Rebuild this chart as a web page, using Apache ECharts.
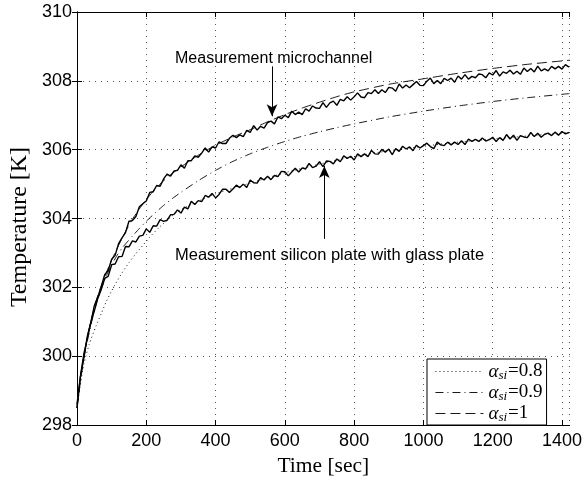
<!DOCTYPE html>
<html>
<head>
<meta charset="utf-8">
<script src="https://cdn.jsdelivr.net/npm/echarts@6/dist/echarts.min.js"></script>
<style>
  html, body { margin: 0; padding: 0; background: #fff; }
  #chart { width: 585px; height: 482px; }
</style>
</head>
<body>
<div id="chart"></div>
<script>
// Logged temperatures, one sample every SAMPLE_STEP seconds starting at t = 0
const SAMPLE_STEP = 10;

const microchannelTemp = [
  298.50, 299.40, 299.97, 300.59, 300.98, 301.47, 301.72, 302.03, 302.37, 302.49,
  302.82, 302.93, 303.27, 303.44, 303.59, 303.92, 303.94, 304.06, 304.34, 304.43,
  304.51, 304.76, 304.78, 304.96, 304.94, 305.15, 305.29, 305.23, 305.38, 305.40,
  305.56, 305.46, 305.68, 305.68, 305.82, 305.78, 305.90, 306.05, 305.93, 306.08,
  306.05, 306.23, 306.18, 306.18, 306.33, 306.42, 306.35, 306.43, 306.38, 306.56,
  306.50, 306.70, 306.57, 306.68, 306.63, 306.79, 306.83, 306.75, 306.95, 306.90,
  307.00, 306.93, 307.12, 307.02, 307.09, 307.02, 307.19, 307.12, 307.27, 307.21,
  307.20, 307.37, 307.23, 307.36, 307.41, 307.29, 307.46, 307.42, 307.54, 307.44,
  307.54, 307.65, 307.53, 307.51, 307.66, 307.63, 307.74, 307.63, 307.74, 307.66,
  307.81, 307.79, 307.70, 307.91, 307.79, 307.88, 307.80, 307.89, 307.98, 307.87,
  307.86, 307.99, 308.08, 307.92, 308.01, 307.92, 308.07, 308.01, 308.08, 307.96,
  308.14, 308.05, 308.18, 308.05, 308.13, 308.09, 308.20, 308.18, 308.09, 308.23,
  308.17, 308.30, 308.14, 308.26, 308.22, 308.31, 308.20, 308.28, 308.19, 308.37,
  308.27, 308.36, 308.26, 308.43, 308.29, 308.35, 308.29, 308.42, 308.35, 308.42,
  308.34, 308.47, 308.40
];

const siliconGlassTemp = [
  298.60, 299.43, 300.08, 300.52, 300.99, 301.31, 301.68, 301.94, 302.26, 302.32,
  302.66, 302.68, 302.89, 302.90, 303.19, 303.18, 303.35, 303.32, 303.49, 303.51,
  303.70, 303.60, 303.79, 303.78, 303.97, 303.92, 303.95, 304.11, 304.12, 304.25,
  304.16, 304.33, 304.28, 304.50, 304.41, 304.52, 304.49, 304.67, 304.62, 304.73,
  304.60, 304.70, 304.85, 304.85, 304.76, 304.86, 304.97, 304.90, 305.00, 304.90,
  305.12, 305.04, 305.03, 305.19, 305.12, 305.23, 305.13, 305.25, 305.22, 305.37,
  305.36, 305.24, 305.35, 305.46, 305.35, 305.47, 305.44, 305.60, 305.48, 305.52,
  305.65, 305.51, 305.67, 305.66, 305.59, 305.73, 305.65, 305.82, 305.75, 305.81,
  305.70, 305.88, 305.80, 305.88, 305.80, 305.98, 305.88, 305.87, 306.01, 305.93,
  306.02, 305.86, 306.03, 305.95, 306.10, 306.02, 306.08, 305.97, 306.13, 306.05,
  306.12, 306.19, 306.09, 306.03, 306.22, 306.14, 306.12, 306.22, 306.14, 306.22,
  306.15, 306.26, 306.15, 306.31, 306.24, 306.30, 306.24, 306.34, 306.25, 306.29,
  306.36, 306.24, 306.35, 306.27, 306.44, 306.31, 306.42, 306.27, 306.41, 306.37,
  306.35, 306.50, 306.38, 306.48, 306.36, 306.45, 306.48, 306.41, 306.51, 306.42,
  306.53, 306.46, 306.50
];

// Simulated heating curves [time s, temperature K] for three absorption coefficients
const modelAlpha08 = [
  [0, 298.5], [10, 299.2], [20, 299.78], [35, 300.34], [55, 300.88], [70, 301.24],
  [85, 301.6], [100, 301.9], [115, 302.17], [130, 302.42], [150, 302.72], [170, 302.98],
  [190, 303.22], [210, 303.46], [235, 303.72], [260, 303.95], [290, 304.2], [320, 304.36],
  [360, 304.55], [400, 304.72], [450, 304.88], [500, 305.03], [600, 305.33], [700, 305.58],
  [800, 305.8], [900, 305.97], [1000, 306.1], [1100, 306.22], [1200, 306.31], [1300, 306.4],
  [1422, 306.5]
];
const modelAlpha09 = [
  [0, 298.5], [10, 299.3], [20, 299.95], [30, 300.45], [40, 300.9], [50, 301.32],
  [60, 301.68], [70, 301.96], [80, 302.22], [90, 302.45], [100, 302.65], [115, 302.92],
  [130, 303.14], [145, 303.32], [160, 303.49], [180, 303.71], [200, 303.92], [225, 304.16],
  [250, 304.38], [275, 304.58], [300, 304.76], [350, 305.1], [400, 305.4], [450, 305.66],
  [500, 305.88], [550, 306.07], [600, 306.24], [650, 306.39], [700, 306.52], [750, 306.64],
  [800, 306.75], [900, 306.95], [1000, 307.12], [1100, 307.27], [1200, 307.4], [1300, 307.51],
  [1422, 307.63]
];
const modelAlpha10 = [
  [0, 298.5], [10, 299.4], [20, 300.0], [30, 300.55], [40, 301.0], [50, 301.42],
  [60, 301.76], [70, 302.04], [80, 302.31], [90, 302.56], [100, 302.79], [120, 303.22],
  [140, 303.62], [160, 303.98], [180, 304.28], [200, 304.55], [225, 304.85], [250, 305.1],
  [275, 305.31], [300, 305.5], [350, 305.84], [400, 306.13], [450, 306.37], [500, 306.58],
  [550, 306.81], [600, 307.02], [650, 307.21], [700, 307.38], [750, 307.54], [800, 307.68],
  [900, 307.9], [1000, 308.06], [1100, 308.22], [1200, 308.36], [1300, 308.48], [1422, 308.6]
];

const alphaLabels = ['0.8', '0.9', '1'];
const xRange = [0, 1422];
const yRange = [298, 310];
const xStep = 200;
const yStep = 2;

// Annotation arrows: [time, tail temperature, head temperature]
const arrowMicrochannel = [563, 308.42, 306.97];
const arrowSilicon = [714, 303.41, 305.53];

const SANS = '"Liberation Sans", Arial, Helvetica, sans-serif';
const SERIF = '"Liberation Serif", "Times New Roman", serif';

function toPairs(values) {
  return values.map((v, i) => [i * SAMPLE_STEP, v]);
}

function arrowMark(a) {
  return {
    silent: true,
    symbol: ['none', 'arrow'],
    symbolSize: [8, 12],
    label: { show: false },
    lineStyle: { color: '#000', width: 1, type: 'solid' },
    data: [[{ coord: [a[0], a[1]] }, { coord: [a[0], a[2]] }]]
  };
}

const modelNames = alphaLabels.map(v => 'alpha_si=' + v);
const modelData = [modelAlpha08, modelAlpha09, modelAlpha10];
const modelDash = [[1, 3], [8, 4, 1, 4], [10, 5]];

const series = [
  {
    name: 'Measurement microchannel',
    type: 'line',
    data: toPairs(microchannelTemp),
    showSymbol: false, symbol: 'none',
    lineStyle: { color: '#000', width: 1.4 },
    z: 3,
    markLine: arrowMark(arrowMicrochannel)
  },
  {
    name: 'Measurement silicon plate with glass plate',
    type: 'line',
    data: toPairs(siliconGlassTemp),
    showSymbol: false, symbol: 'none',
    lineStyle: { color: '#000', width: 1.4 },
    z: 3,
    markLine: arrowMark(arrowSilicon)
  }
].concat(modelNames.map((name, i) => ({
  name: name,
  type: 'line',
  data: modelData[i],
  showSymbol: false, symbol: 'none',
  smooth: 0.2,
  color: '#000',
  lineStyle: { color: '#000', width: 0.9, type: modelDash[i] },
  z: 2
})));

const axisCommon = {
  type: 'value',
  axisLine: { show: true, lineStyle: { color: '#000', width: 1 } },
  axisTick: { show: true, inside: true, length: 5, lineStyle: { color: '#000', width: 1 } }
};

const plainNumber = v => String(v);

const option = {
  animation: false,
  backgroundColor: '#fff',
  grid: { left: 77, right: 12, top: 12, bottom: 54, containLabel: false },
  xAxis: [
    Object.assign({}, axisCommon, {
      position: 'bottom',
      min: xRange[0], max: xRange[1], interval: xStep,
      name: 'Time [sec]', nameLocation: 'middle', nameGap: 28,
      nameTextStyle: { fontFamily: SERIF, fontSize: 21.5, color: '#000' },
      axisLabel: { show: true, margin: 7, color: '#000', fontFamily: SANS, fontSize: 18, showMaxLabel: false, formatter: plainNumber },
      splitLine: { show: true, lineStyle: { color: '#555', width: 1, type: [1, 5] } }
    }),
    Object.assign({}, axisCommon, {
      position: 'top',
      min: xRange[0], max: xRange[1], interval: xStep,
      axisLabel: { show: false },
      splitLine: { show: false }
    })
  ],
  yAxis: [
    Object.assign({}, axisCommon, {
      position: 'left',
      min: yRange[0], max: yRange[1], interval: yStep,
      axisLabel: { show: true, margin: 5, color: '#000', fontFamily: SANS, fontSize: 18, formatter: plainNumber },
      splitLine: { show: true, lineStyle: { color: '#555', width: 1, type: [1, 5] } }
    }),
    Object.assign({}, axisCommon, {
      position: 'right',
      min: yRange[0], max: yRange[1], interval: yStep,
      axisLabel: { show: false },
      splitLine: { show: false }
    })
  ],
  legend: {
    data: modelNames,
    orient: 'vertical',
    left: 427, top: 359,
    itemWidth: 48, itemHeight: 14, itemGap: 0,
    padding: [2, 4, 1, 8],
    backgroundColor: '#fff',
    borderColor: '#000', borderWidth: 1, borderRadius: 0,
    selectedMode: false,
    itemStyle: { opacity: 0, color: 'rgba(0,0,0,0)', borderWidth: 0 },
    lineStyle: { width: 0.9 },
    formatter: function (name) {
      const v = name.split('=')[1];
      return '{a|\u03b1}{s|si}{v|=' + v + '}';
    },
    textStyle: {
      color: '#000', fontFamily: SERIF, fontSize: 19,
      rich: {
        a: { fontFamily: SERIF, fontStyle: 'italic', fontSize: 19, lineHeight: 18 },
        s: { fontFamily: SERIF, fontStyle: 'italic', fontSize: 13, lineHeight: 10, padding: [8, 1, 0, 0] },
        v: { fontFamily: SERIF, fontSize: 19, lineHeight: 18 }
      }
    }
  },
  graphic: [
    {
      type: 'text', x: 19.5, y: 227, rotation: Math.PI / 2, silent: true,
      style: { text: 'Temperature [K]', fill: '#000', font: '24px ' + SERIF, align: 'center', verticalAlign: 'middle' }
    },
    {
      type: 'text', x: 175, y: 59, silent: true,
      style: { text: 'Measurement microchannel', fill: '#000', font: '16px ' + SANS, verticalAlign: 'middle' }
    },
    {
      type: 'text', x: 175, y: 255, silent: true,
      style: { text: 'Measurement silicon plate with glass plate', fill: '#000', font: '16.5px ' + SANS, verticalAlign: 'middle' }
    }
  ],
  series: series
};

const chart = echarts.init(document.getElementById('chart'), null, { renderer: 'canvas' });
chart.setOption(option);
</script>
</body>
</html>
